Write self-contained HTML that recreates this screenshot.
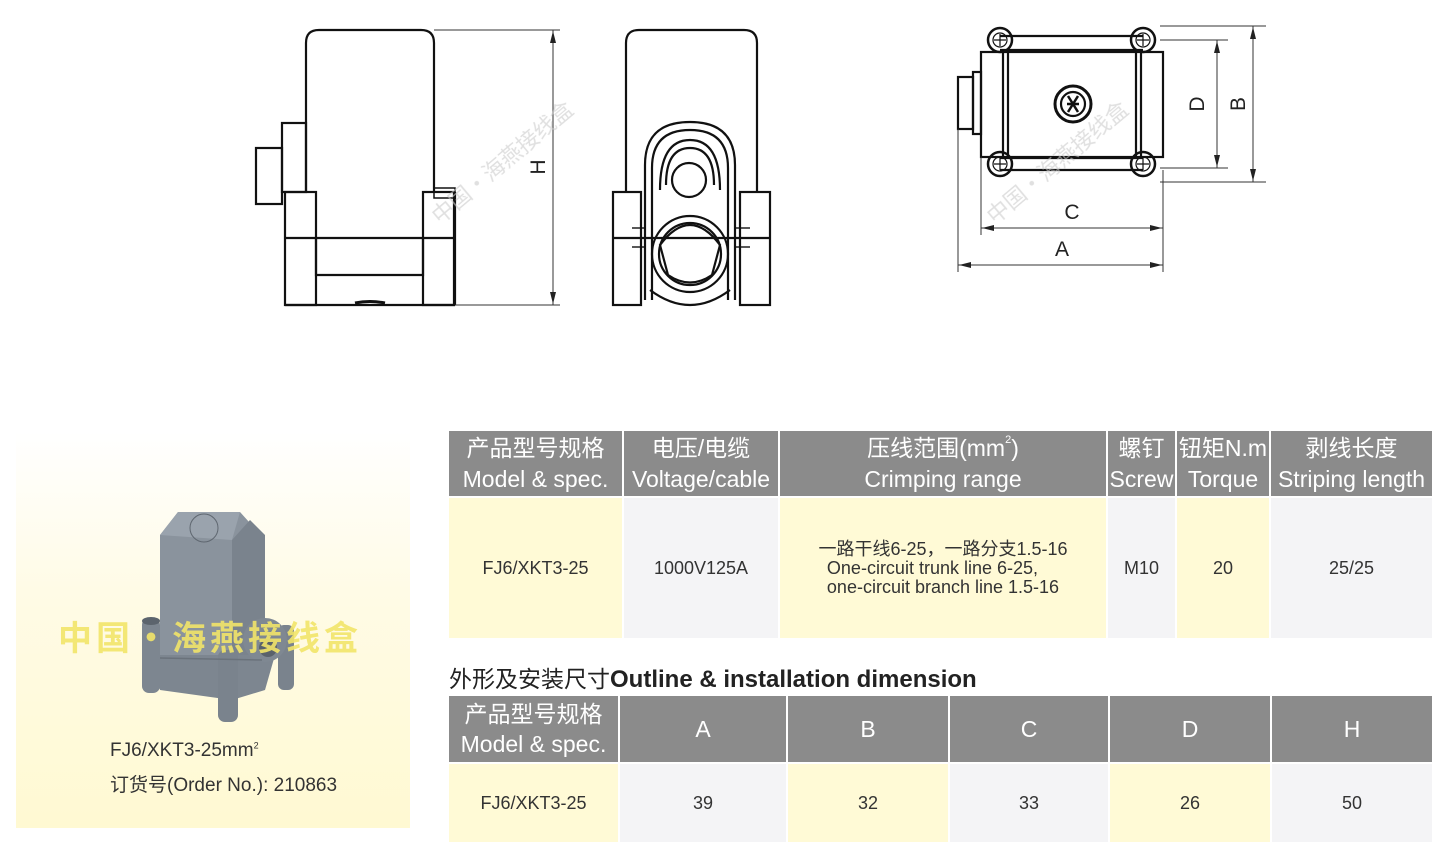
<!DOCTYPE html>
<html><head><meta charset="utf-8"><style>
*{margin:0;padding:0;box-sizing:border-box}
body{width:1446px;height:864px;background:#fff;position:relative;overflow:hidden;font-family:"Liberation Sans","Noto Sans CJK SC",sans-serif;color:#333}
.a{position:absolute}
.h{position:absolute;background:#8b8b8b;color:#fff;text-align:center;font-size:23px;line-height:31px;display:flex;flex-direction:column;justify-content:center;align-items:center;white-space:nowrap;overflow:hidden}
.c{position:absolute;display:flex;align-items:center;justify-content:center;font-size:18px;color:#333;text-align:center}
.y{background:#fffad6}.g{background:#f4f4f6}
</style></head><body>

<svg class="a" style="left:0;top:0" width="1446" height="330" viewBox="0 0 1446 330">
<g fill="none" stroke="#111" stroke-width="2.2">
<path d="M306 192 V43 Q306 30 319 30 H421 Q434 30 434 43 V192"/>
<rect x="282" y="123" width="24" height="69"/>
<rect x="256" y="148" width="26" height="56"/>
<rect x="285" y="192" width="31" height="113"/>
<rect x="423" y="192" width="31" height="113"/>
<rect x="434" y="188" width="21" height="10" stroke-width="1.5"/>
<line x1="285" y1="238" x2="455" y2="238"/>
<path d="M316 238 V275 H423 V238"/>
<line x1="285" y1="305" x2="455" y2="305"/>
<line x1="455" y1="192" x2="455" y2="305"/>
<path d="M355 303 Q370 300 385 303" stroke-width="3"/>
<path d="M626 192 V43 Q626 30 639 30 H744 Q757 30 757 43 V192"/>
<rect x="613" y="192" width="28" height="113"/>
<rect x="740" y="192" width="30" height="113"/>
<line x1="613" y1="238" x2="770" y2="238"/>
<path d="M645 300 V165 Q645 122 690 122 Q735 122 735 165 V300"/>
<path d="M652 300 V168 Q652 130 690 130 Q728 130 728 168 V300"/>
<path d="M660 190 Q660 140 690 140 Q720 140 720 190"/>
<path d="M666 185 Q666 148 690 148 Q714 148 714 185"/>
<circle cx="689" cy="180" r="17"/>
<circle cx="690" cy="254" r="38"/>
<circle cx="690" cy="254" r="31"/>
<path d="M660 245 Q690 205 720 245 L712 275 Q690 290 668 275 Z"/>
<path d="M650 290 Q690 320 730 290"/>
<line x1="632" y1="228" x2="645" y2="228" stroke-width="1.4"/><line x1="632" y1="247" x2="645" y2="247" stroke-width="1.4"/>
<line x1="735" y1="228" x2="750" y2="228" stroke-width="1.4"/><line x1="735" y1="247" x2="750" y2="247" stroke-width="1.4"/>
<rect x="981" y="52" width="182" height="105"/>
<line x1="1003" y1="52" x2="1003" y2="157"/><line x1="1008" y1="52" x2="1008" y2="157"/>
<line x1="1136" y1="52" x2="1136" y2="157"/><line x1="1141" y1="52" x2="1141" y2="157"/>
<line x1="1000" y1="36" x2="1143" y2="36"/><line x1="1000" y1="50" x2="1143" y2="50"/>
<line x1="1000" y1="158" x2="1143" y2="158"/><line x1="1000" y1="170" x2="1143" y2="170"/>
<rect x="958" y="77" width="15" height="52"/><rect x="973" y="72" width="8" height="62"/>
<g stroke-width="2.5"><circle cx="1000" cy="40" r="12"/><circle cx="1143" cy="40" r="12"/><circle cx="1000" cy="164" r="12"/><circle cx="1143" cy="164" r="12"/></g>
<g stroke-width="1.2"><circle cx="1000" cy="40" r="7"/><circle cx="1143" cy="40" r="7"/><circle cx="1000" cy="164" r="7"/><circle cx="1143" cy="164" r="7"/>
<path d="M994 40h12M1000 34v12M1137 40h12M1143 34v12M994 164h12M1000 158v12M1137 164h12M1143 158v12"/></g>
<circle cx="1073" cy="104" r="18" stroke-width="3"/><circle cx="1073" cy="104" r="12"/>
<path d="M1068 96 L1078 112 M1078 96 L1068 112 M1067 104 h12" stroke-width="2.5"/>
</g>
<g stroke="#333" stroke-width="1" fill="none">
<line x1="434" y1="30" x2="560" y2="30"/><line x1="455" y1="305" x2="560" y2="305"/>
<line x1="553" y1="30" x2="553" y2="305"/>
<line x1="1160" y1="26" x2="1266" y2="26"/><line x1="1160" y1="40" x2="1228" y2="40"/>
<line x1="1160" y1="168" x2="1228" y2="168"/><line x1="1160" y1="182" x2="1266" y2="182"/>
<line x1="1217" y1="40" x2="1217" y2="168"/><line x1="1253" y1="26" x2="1253" y2="182"/>
<line x1="958" y1="129" x2="958" y2="272"/><line x1="981" y1="157" x2="981" y2="235"/><line x1="1163" y1="170" x2="1163" y2="272"/>
<line x1="981" y1="228" x2="1163" y2="228"/><line x1="958" y1="265" x2="1163" y2="265"/>
</g>
<g fill="#222">
<path d="M553 31 l-3 12 h6z M553 304 l-3 -12 h6z"/>
<path d="M1217 41 l-3 12 h6z M1217 167 l-3 -12 h6z M1253 27 l-3 12 h6z M1253 181 l-3 -12 h6z"/>
<path d="M982 228 l12 -3 v6z M1162 228 l-12 -3 v6z M959 265 l12 -3 v6z M1162 265 l-12 -3 v6z"/>
</g>
<g font-family="Liberation Sans, sans-serif" font-size="21" fill="#222">
<text x="538" y="167" transform="rotate(-90 538 167)" text-anchor="middle" dy="7">H</text>
<text x="1197" y="104" transform="rotate(-90 1197 104)" text-anchor="middle" dy="7">D</text>
<text x="1238" y="104" transform="rotate(-90 1238 104)" text-anchor="middle" dy="7">B</text>
<text x="1072" y="219" text-anchor="middle">C</text>
<text x="1062" y="256" text-anchor="middle">A</text>
</g>
<g font-family="Noto Sans CJK SC, sans-serif" font-size="22" fill="#ccc" opacity="0.6">
<text transform="translate(440 225) rotate(-40)">中国·海燕接线盒</text>
<text transform="translate(995 225) rotate(-40)">中国·海燕接线盒</text>
</g>
</svg>

<div class="a" style="left:16px;top:432px;width:394px;height:396px;background:linear-gradient(#fff 0%,#fffbe6 40%,#fff9d2 100%)"></div>
<svg class="a" style="left:16px;top:432px" width="394" height="396" viewBox="16 432 394 396">
<polygon points="160,535 178,512 240,512 258,532 258,655 160,655" fill="#8a939d"/>
<polygon points="160,535 178,512 240,512 232,540" fill="#9aa3ad"/>
<polygon points="232,540 250,520 265,535 265,650 232,665" fill="#7a838d"/>
<polygon points="150,655 275,655 265,690 232,700 160,690" fill="#7d8690"/>
<circle cx="204" cy="528" r="14" fill="none" stroke="#5f6770" stroke-width="1"/>
<rect x="142" y="618" width="18" height="75" rx="7" fill="#7d8690"/>
<ellipse cx="151" cy="621" rx="9" ry="4" fill="#5c646d"/>
<rect x="218" y="650" width="20" height="72" rx="7" fill="#7a838d"/>
<rect x="278" y="625" width="16" height="65" rx="6" fill="#7a838d"/>
<circle cx="265" cy="640" r="22" fill="#7f8892"/><circle cx="268" cy="648" r="9" fill="#5a626b"/>
<line x1="160" y1="658" x2="262" y2="660" stroke="#6a727b" stroke-width="1.5"/>
</svg>
<div class="a" style="left:58px;top:614px;font-family:'Noto Sans CJK SC',sans-serif;font-weight:bold;font-size:34px;line-height:44px;color:#f2e56a;letter-spacing:4px;opacity:.9;white-space:nowrap">中国·海燕接线盒</div>
<div class="a" style="left:110px;top:740px;font-size:19px;color:#333">FJ6/XKT3-25mm<sup style="font-size:9px">2</sup></div>
<div class="a" style="left:110px;top:770px;font-size:19px;color:#333">订货号(Order No.): 210863</div>

<div class="h" style="left:449px;top:431px;width:173px;height:65px"><span>产品型号规格</span><span>Model &amp; spec.</span></div>
<div class="h" style="left:624px;top:431px;width:154px;height:65px"><span>电压/电缆</span><span>Voltage/cable</span></div>
<div class="h" style="left:780px;top:431px;width:326px;height:65px"><span>压线范围(mm<span style="font-size:11px;vertical-align:top;line-height:14px">2</span>)</span><span>Crimping range</span></div>
<div class="h" style="left:1108px;top:431px;width:67px;height:65px"><span>螺钉</span><span>Screw</span></div>
<div class="h" style="left:1177px;top:431px;width:92px;height:65px"><span>钮矩N.m</span><span>Torque</span></div>
<div class="h" style="left:1271px;top:431px;width:161px;height:65px"><span>剥线长度</span><span>Striping length</span></div>
<div class="c y" style="left:449px;top:498px;width:173px;height:140px">FJ6/XKT3-25</div>
<div class="c g" style="left:624px;top:498px;width:154px;height:140px">1000V125A</div>
<div class="c y" style="left:780px;top:498px;width:326px;height:140px;line-height:19px"><div>一路干线6-25，一路分支1.5-16<br><span style="display:inline-block;text-align:left">One-circuit trunk line 6-25,<br>one-circuit branch line 1.5-16</span></div></div>
<div class="c g" style="left:1108px;top:498px;width:67px;height:140px">M10</div>
<div class="c y" style="left:1177px;top:498px;width:92px;height:140px">20</div>
<div class="c g" style="left:1271px;top:498px;width:161px;height:140px">25/25</div>

<div class="a" style="left:449px;top:660px;font-size:23px;color:#222;white-space:nowrap">外形及安装尺寸<b style="font-size:24px">Outline &amp; installation dimension</b></div>

<div class="h" style="left:449px;top:696px;width:169px;height:66px;line-height:30px"><span>产品型号规格</span><span>Model &amp; spec.</span></div>
<div class="h" style="left:620px;top:696px;width:166px;height:66px">A</div>
<div class="h" style="left:788px;top:696px;width:160px;height:66px">B</div>
<div class="h" style="left:950px;top:696px;width:158px;height:66px">C</div>
<div class="h" style="left:1110px;top:696px;width:160px;height:66px">D</div>
<div class="h" style="left:1272px;top:696px;width:160px;height:66px">H</div>
<div class="c y" style="left:449px;top:764px;width:169px;height:78px">FJ6/XKT3-25</div>
<div class="c g" style="left:620px;top:764px;width:166px;height:78px">39</div>
<div class="c y" style="left:788px;top:764px;width:160px;height:78px">32</div>
<div class="c g" style="left:950px;top:764px;width:158px;height:78px">33</div>
<div class="c y" style="left:1110px;top:764px;width:160px;height:78px">26</div>
<div class="c g" style="left:1272px;top:764px;width:160px;height:78px">50</div>
</body></html>
